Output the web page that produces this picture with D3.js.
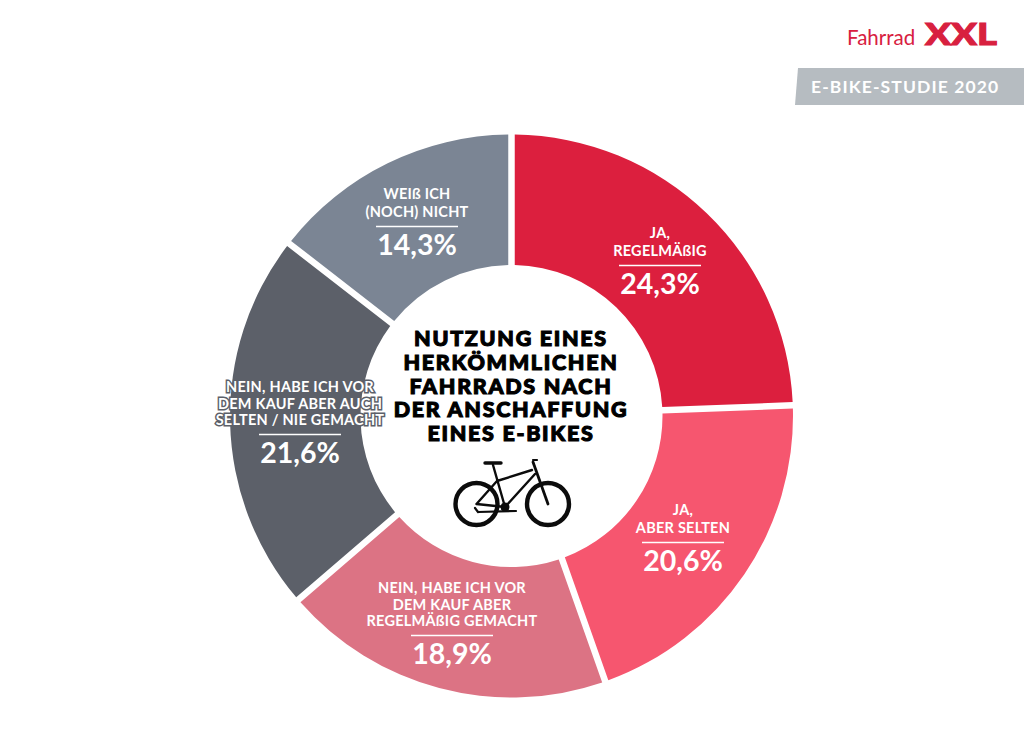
<!DOCTYPE html>
<html lang="de"><head><meta charset="utf-8">
<script src="https://cdn.jsdelivr.net/npm/d3@7"></script>
<style>html,body{margin:0;padding:0;background:#fff;overflow:hidden}svg{display:block}
text{font-family:Lato,"Open Sans",sans-serif}</style></head><body>
<script>
const categories=[["JA,","REGELMÄßIG"],["JA,","ABER SELTEN"],["NEIN, HABE ICH VOR","DEM KAUF ABER","REGELMÄßIG GEMACHT"],["NEIN, HABE ICH VOR","DEM KAUF ABER AUCH","SELTEN / NIE GEMACHT"],["WEIß ICH","(NOCH) NICHT"]];
// Printed percentages, as labelled in the reference.
const values=[24.3,20.6,18.9,21.6,14.3];
const drawnShares=[24.4,20.2,19.08,21.83,14.5];
const colors=["#dc1f3e","#f6566f","#dc7384","#5c6069","#7b8594"];
const labelCentres=[[660,284],[683,561],[452,654],[300,453],[417,245]];
const titleLines=["NUTZUNG EINES","HERKÖMMLICHEN","FAHRRADS NACH","DER ANSCHAFFUNG","EINES E-BIKES"];
const W=1024,H=737,cx=511.5,cy=416,R=281.5,r=151;
const svg=d3.select("body").append("svg").attr("width",W).attr("height",H);
const fmt=v=>v.toFixed(1).replace(".",",")+"%";
const pie=d3.pie().sort(null).value(d=>d)(drawnShares);
const arc=d3.arc().innerRadius(r).outerRadius(R).padAngle(6.5/R).padRadius(R);
const g=svg.append("g").attr("transform",`translate(${cx},${cy})`);
g.selectAll("path").data(pie).join("path").attr("d",arc).attr("fill",(d,i)=>colors[i]);
// labels
categories.forEach((lines,i)=>{
  const [x,yv]=labelCentres[i];
  const lg=svg.append("g");
  const halo=i===3;
  lines.forEach((t,j)=>{
    const y=yv-28-(lines.length-1-j)*(lines.length===3?16.5:18);
    lg.append("text").attr("x",x).attr("y",y).attr("text-anchor","middle")
      .attr("font-size",14.5).attr("font-weight",700).attr("letter-spacing",.25).attr("fill","#fff").text(t)
      .attr("stroke",halo?"#5c6069":"none").attr("stroke-width",halo?3:0).style("paint-order","stroke");
  });
  lg.append("line").attr("x1",x-41).attr("x2",x+41).attr("y1",yv-18.5).attr("y2",yv-18.5).attr("stroke","#fff").attr("stroke-width",1.5);
  lg.append("text").attr("x",x).attr("y",yv+10).attr("text-anchor","middle").attr("font-size",28.5).attr("font-weight",700).attr("fill","#fff").text(fmt(values[i]));
});
// title
titleLines.forEach((t,i)=>svg.append("text").attr("x",511).attr("y",346+i*23.8).attr("text-anchor","middle")
  .attr("font-size",21.5).attr("font-weight",900).attr("letter-spacing",1.7).attr("fill","#000").attr("stroke","#000").attr("stroke-width",1.1).text(t));
// bicycle
const bike=svg.append("g").attr("fill","none").attr("stroke","#0c0c0c").attr("stroke-linecap","round").attr("stroke-linejoin","round");
[[476.5,504],[548,504]].forEach(c=>bike.append("circle").attr("cx",c[0]).attr("cy",c[1]).attr("r",21).attr("stroke-width",4.4));
bike.append("path").attr("stroke-width",2.4).attr("d","M493 465L505 507M497 481L532 470M505 507L535 474M497 481L476.5 504M476.5 504L505 507");
bike.append("path").attr("stroke-width",2.8).attr("d","M533 462L548 504");
bike.append("path").attr("stroke-width",3.4).attr("d","M485 463L501 463");
bike.append("path").attr("stroke-width",2.2).attr("d","M533 460L537 460M478 512L516 511M475 508L478 512");
bike.append("circle").attr("cx",505).attr("cy",507).attr("r",4.5).attr("fill","#0c0c0c").attr("stroke","none");
// branding
svg.append("text").attr("x",847).attr("y",45).attr("font-size",20.5).attr("font-weight",400).attr("fill","#d8203f").attr("font-family","Open Sans").text("Fahrrad");
svg.append("text").attr("x",925).attr("y",45).attr("font-size",30).attr("font-weight",900).attr("fill","#d8203f").attr("stroke","#d8203f").attr("stroke-width",1).attr("textLength",72).attr("lengthAdjust","spacingAndGlyphs").text("XXL");
svg.append("polygon").attr("points","798,68 1024,68 1024,105 795,105").attr("fill","#b6bcc1");
svg.append("text").attr("x",811).attr("y",93).attr("font-size",17.5).attr("font-weight",700).attr("letter-spacing",1.1).attr("fill","#fff").text("E-BIKE-STUDIE 2020");
</script></body></html>
